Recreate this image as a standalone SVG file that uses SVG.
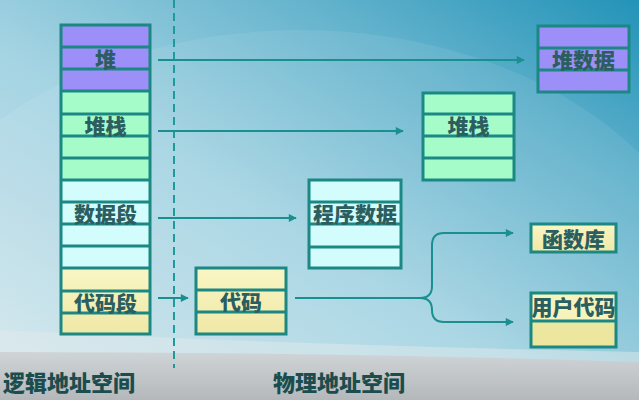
<svg xmlns="http://www.w3.org/2000/svg" width="639" height="400" viewBox="0 0 639 400">
<defs>
<linearGradient id="bg" x1="0" y1="1" x2="1" y2="0">
<stop offset="0" stop-color="#d6e8ee"/>
<stop offset="0.45" stop-color="#a3d3e2"/>
<stop offset="0.75" stop-color="#62b2cc"/>
<stop offset="1" stop-color="#2393b8"/>
</linearGradient>
<linearGradient id="floor" x1="0" y1="0" x2="0" y2="1">
<stop offset="0" stop-color="#cfd4d6"/>
<stop offset="1" stop-color="#b4b8ba"/>
</linearGradient>
<linearGradient id="yel" x1="0" y1="0" x2="0" y2="1">
<stop offset="0" stop-color="#faf6c4"/>
<stop offset="1" stop-color="#efe8a6"/>
</linearGradient>
<marker id="ah" viewBox="0 0 10 10" refX="9" refY="5" markerWidth="9" markerHeight="8" markerUnits="userSpaceOnUse" orient="auto">
<path d="M0,0 L10,5 L0,10 Z" fill="#1a8f8f"/>
</marker>
<style>
.grid{stroke:#1b8883;stroke-width:3;fill:none}
.line{stroke:#1b8883;stroke-width:3}
.p{fill:#9c8ff8}
.g{fill:#a6fcc9}
.c{fill:#d3fdfd}
.y{fill:url(#yel)}
.t{font-family:"Noto Sans CJK SC","Noto Sans",sans-serif;font-weight:900;font-size:21px;fill:#2b5e60;text-anchor:middle;dominant-baseline:central}
.lbl{font-family:"Noto Sans CJK SC","Noto Sans",sans-serif;font-weight:900;font-size:22px;fill:#1b4d4e}
.conn{stroke:#1a8f8f;stroke-width:2;fill:none}
</style>
</defs>
<rect width="639" height="400" fill="url(#bg)"/>
<ellipse cx="300" cy="330" rx="420" ry="300" fill="#ffffff" opacity="0.08"/>
<path d="M0,330 Q300,345 639,352 L639,400 L0,400 Z" fill="#dfe9ec" opacity="0.5"/>
<path d="M0,352 Q320,352 639,362 L639,400 L0,400 Z" fill="url(#floor)"/>

<line x1="174" y1="0" x2="174" y2="368" stroke="#1f9a9c" stroke-width="2" stroke-dasharray="8 5"/>

<g id="logical">
<rect class="p" x="61" y="25" width="89" height="66"/>
<rect class="g" x="61" y="91" width="89" height="89"/>
<rect class="c" x="61" y="180" width="89" height="88"/>
<rect class="y" x="61" y="268" width="89" height="66"/>
<path class="line" d="M61,47H150M61,69H150M61,91H150M61,114H150M61,136H150M61,158H150M61,180H150M61,202H150M61,224H150M61,246H150M61,268H150M61,291H150M61,313H150"/>
<rect class="grid" x="61" y="25" width="89" height="309"/>
<text class="t" x="105.5" y="58">堆</text>
<text class="t" x="105.5" y="125">堆栈</text>
<text class="t" x="105.5" y="213">数据段</text>
<text class="t" x="105.5" y="302">代码段</text>
</g>

<g id="heapdata">
<rect class="p" x="538" y="26" width="91" height="66"/>
<path class="line" d="M538,48H629M538,70H629"/>
<rect class="grid" x="538" y="26" width="91" height="66"/>
<text class="t" x="583.5" y="59">堆数据</text>
</g>

<g id="stack">
<rect class="g" x="423" y="93" width="91" height="87"/>
<path class="line" d="M423,114H514M423,136H514M423,158H514"/>
<rect class="grid" x="423" y="93" width="91" height="87"/>
<text class="t" x="468.5" y="125">堆栈</text>
</g>

<g id="progdata">
<rect class="c" x="309" y="180" width="92" height="88"/>
<path class="line" d="M309,202H401M309,224H401M309,247H401"/>
<rect class="grid" x="309" y="180" width="92" height="88"/>
<text class="t" x="355" y="213">程序数据</text>
</g>

<g id="code">
<rect class="y" x="196" y="268" width="90" height="66"/>
<path class="line" d="M196,290H286M196,312H286"/>
<rect class="grid" x="196" y="268" width="90" height="66"/>
<text class="t" x="241" y="301">代码</text>
</g>

<g id="lib">
<rect class="y" x="531" y="224" width="85" height="28"/>
<rect class="grid" x="531" y="224" width="85" height="28"/>
<text class="t" x="573.5" y="238">函数库</text>
</g>

<g id="usercode">
<rect fill="#f7f3bd" x="531" y="293" width="85" height="28"/>
<rect fill="#ece69f" x="531" y="321" width="85" height="26"/>
<path class="line" d="M531,321H616"/>
<rect class="grid" x="531" y="293" width="85" height="54"/>
<text class="t" x="573.5" y="306">用户代码</text>
</g>

<g id="connectors">
<path class="conn" d="M158,60H524" marker-end="url(#ah)"/>
<path class="conn" d="M158,131H403" marker-end="url(#ah)"/>
<path class="conn" d="M158,218H296" marker-end="url(#ah)"/>
<path class="conn" d="M158,298H188" marker-end="url(#ah)"/>
<path class="conn" d="M295,298H420Q432,298 432,286V245Q432,233 444,233H513" marker-end="url(#ah)"/>
<path class="conn" d="M420,298Q432,298 432,310Q432,322 444,322H513" marker-end="url(#ah)"/>
</g>

<text class="lbl" x="3" y="391">逻辑地址空间</text>
<text class="lbl" x="273" y="391">物理地址空间</text>
</svg>
